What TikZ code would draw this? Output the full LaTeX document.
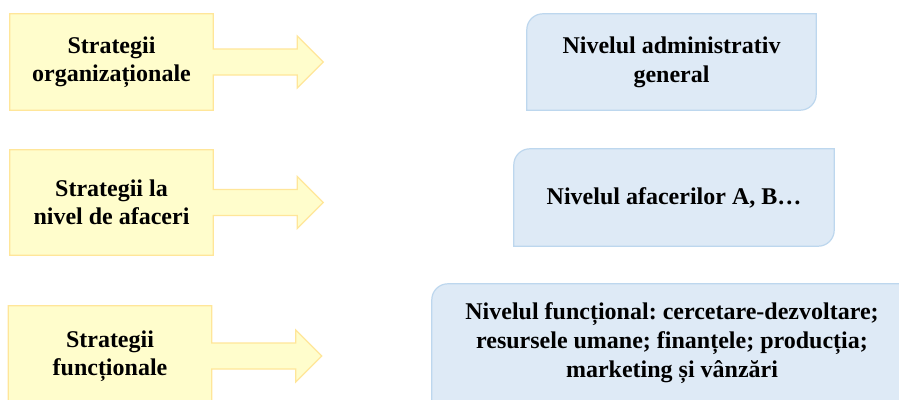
\documentclass[tikz,border=0pt]{standalone}
\usepackage{fontspec}
\setmainfont{Liberation Serif}
\usetikzlibrary{backgrounds,calc}
\definecolor{yfill}{HTML}{FFFDCC}
\definecolor{ydraw}{HTML}{FFE699}
\definecolor{bfill}{HTML}{DEEAF6}
\definecolor{bdraw}{HTML}{BDD7EE}
\tikzset{
  x=1pt, y=1pt,
  txt/.style={inner sep=0pt, align=center, font=\frenchspacing\bfseries\fontsize{24}{27.5}\selectfont},
  btxt/.style={inner sep=0pt, align=center, font=\frenchspacing\bfseries\fontsize{24}{29}\selectfont},
  yshape/.style={fill=yfill, draw=ydraw, line width=1.2pt, line join=miter},
  bshape/.style={fill=bfill, draw=bdraw, line width=1.2pt},
}
\begin{document}
\begin{tikzpicture}
\clip (0,0) rectangle (899,-399);
% yellow strategy boxes
\node[txt, minimum width=203pt, minimum height=96pt] (s1) at (111.5,-62) {Strategii\\organizaționale};
\node[txt, minimum width=203pt, minimum height=105pt] (s2) at (111.5,-202.5) {Strategii la\\nivel de afaceri};
\node[txt, minimum width=203pt, minimum height=100pt] (s3) at (110,-356) {Strategii\\funcționale};
% blue level boxes
\node[btxt, minimum width=289pt, minimum height=96pt] (b1) at (671.5,-62) {Nivelul administrativ\\general};
\node[btxt, minimum width=320pt, minimum height=97pt] (b2) at (674,-197.5) {Nivelul afacerilor A, B…};
\node[btxt, minimum width=480pt, minimum height=118pt] (b3) at (672,-343) {Nivelul funcțional: cercetare-dezvoltare;\\resursele umane; finanțele; producția;\\marketing și vânzări};
% arrow tips
\coordinate (t1) at ($(s1.east)+(110,0)$);
\coordinate (t2) at ($(s2.east)+(110,0)$);
\coordinate (t3) at ($(s3.east)+(110,0)$);
\begin{scope}[on background layer]
\fill[white] (0,0) rectangle (899,-399);
\foreach \s/\t in {s1/t1,s2/t2,s3/t3}{
  \draw[yshape] (\s.north west) -- (\s.north east) -- ($(\s.east)+(0,13)$)
    -- ($(\s.east)+(84,13)$) -- ($(\s.east)+(84,26)$) -- (\t)
    -- ($(\s.east)+(84,-26)$) -- ($(\s.east)+(84,-13)$) -- ($(\s.east)+(0,-13)$)
    -- (\s.south east) -- (\s.south west) -- cycle;
}
\foreach \b in {b1,b2,b3}{
  \draw[bshape] (\b.south west) -- ($(\b.north west)+(0,-16)$)
    arc[start angle=180, end angle=90, radius=16pt]
    -- (\b.north east) -- ($(\b.south east)+(0,16)$)
    arc[start angle=0, end angle=-90, radius=16pt] -- cycle;
}
\end{scope}
\end{tikzpicture}
\end{document}
